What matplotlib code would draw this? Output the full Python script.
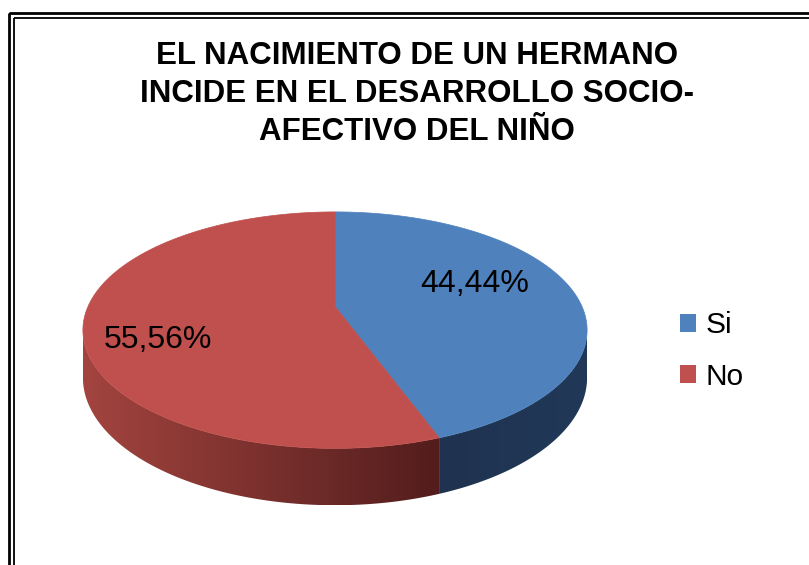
import numpy as np
import matplotlib
matplotlib.use('Agg')
import matplotlib.pyplot as plt
from matplotlib.patches import Polygon, Patch, Rectangle
from matplotlib.colors import LinearSegmentedColormap

# data
labels = ['Si', 'No']
values = [44.44, 55.56]
value_texts = ['44,44%', '55,56%']
title = 'EL NACIMIENTO DE UN HERMANO\nINCIDE EN EL DESARROLLO SOCIO-\nAFECTIVO DEL NIÑO'

top_colors = ['#4f81bd', '#c0504d']
side_colors = [('#1f3350', '#213858'), ('#a3443f', '#521d1c')]
label_r = [0.585, 0.71]
label_dy = [-11, 19]

plt.rcParams['font.family'] = ['Liberation Sans', 'DejaVu Sans']

W, H = 809, 565
fig = plt.figure(figsize=(W / 100, H / 100), dpi=100)
ax = fig.add_axes([0, 0, 1, 1])
ax.set_xlim(0, W)
ax.set_ylim(H, 0)
ax.axis('off')

# tilted disc with a bit of perspective (pixel units)
cx, cy = 335, 306.5
A, B = 247, 113.5
k = 0.2
D = 45.5


def proj(t, r=1.0, depth=0.0):
    u = r * np.cos(t)
    v = r * np.sin(t)
    den = 1 + k * v
    return cx + A * u / den, cy + (-B * v + depth) / den


fracs = np.array(values) / np.sum(values)
starts = np.pi / 2 - 2 * np.pi * np.concatenate([[0], np.cumsum(fracs)[:-1]])
ends = starts - 2 * np.pi * fracs

# visible front arc of the wall
a = np.arcsin(k)
front = (-np.pi + a, -a)

# side walls
for s, e, (c0, c1) in zip(starts, ends, side_colors):
    lo, hi = e, s
    for shift in (0, 2 * np.pi, -2 * np.pi):
        t0 = max(lo + shift, front[0])
        t1 = min(hi + shift, front[1])
        if t1 <= t0:
            continue
        t = np.linspace(t0, t1, 200)
        xt, yt = proj(t)
        xb, yb = proj(t[::-1], depth=D)
        pts = np.column_stack([np.concatenate([xt, xb]), np.concatenate([yt, yb])])
        poly = Polygon(pts, closed=True, facecolor='none', edgecolor='none')
        ax.add_patch(poly)
        cmap = LinearSegmentedColormap.from_list('side', [c0, c1])
        grad = np.linspace(0, 1, 256).reshape(1, -1)
        im = ax.imshow(grad, cmap=cmap, aspect='auto', interpolation='bilinear',
                       extent=[pts[:, 0].min(), pts[:, 0].max(), pts[:, 1].max(), pts[:, 1].min()])
        im.set_clip_path(poly)

# top faces
for s, e, col in zip(starts, ends, top_colors):
    t = np.linspace(s, e, 300)
    xt, yt = proj(t)
    pts = np.column_stack([np.concatenate([[cx], xt]), np.concatenate([[cy], yt])])
    ax.add_patch(Polygon(pts, closed=True, facecolor=col, edgecolor=col, lw=0.5))

# value labels
for s, e, txt, r, dy in zip(starts, ends, value_texts, label_r, label_dy):
    m = (s + e) / 2
    x, y = proj(m, r=r)
    ax.text(x, y + dy, txt, ha='center', va='center', fontsize=23, color='black')

ax.set_xlim(0, W)
ax.set_ylim(H, 0)

# title
ax.text(417, 94, title, ha='center', va='center', fontsize=22.5, fontweight='bold',
        linespacing=1.33, color='black')

# legend
handles = [Patch(facecolor=c, edgecolor='none') for c in top_colors]
fig.legend(handles, labels, loc='center left', bbox_to_anchor=(680 / W, 1 - 351 / H),
           frameon=False, fontsize=21.5, handlelength=0.55, handleheight=0.55,
           handletextpad=0.3, labelspacing=0.78, borderpad=0, borderaxespad=0)

# chart border (double line)
ax.add_patch(Rectangle((9.3, 13), 900, 700, fill=False, edgecolor='black', lw=2.0, clip_on=False))
ax.add_patch(Rectangle((14, 18), 900, 700, fill=False, edgecolor='black', lw=1.3, clip_on=False))

fig.savefig('out.png', dpi=100)
